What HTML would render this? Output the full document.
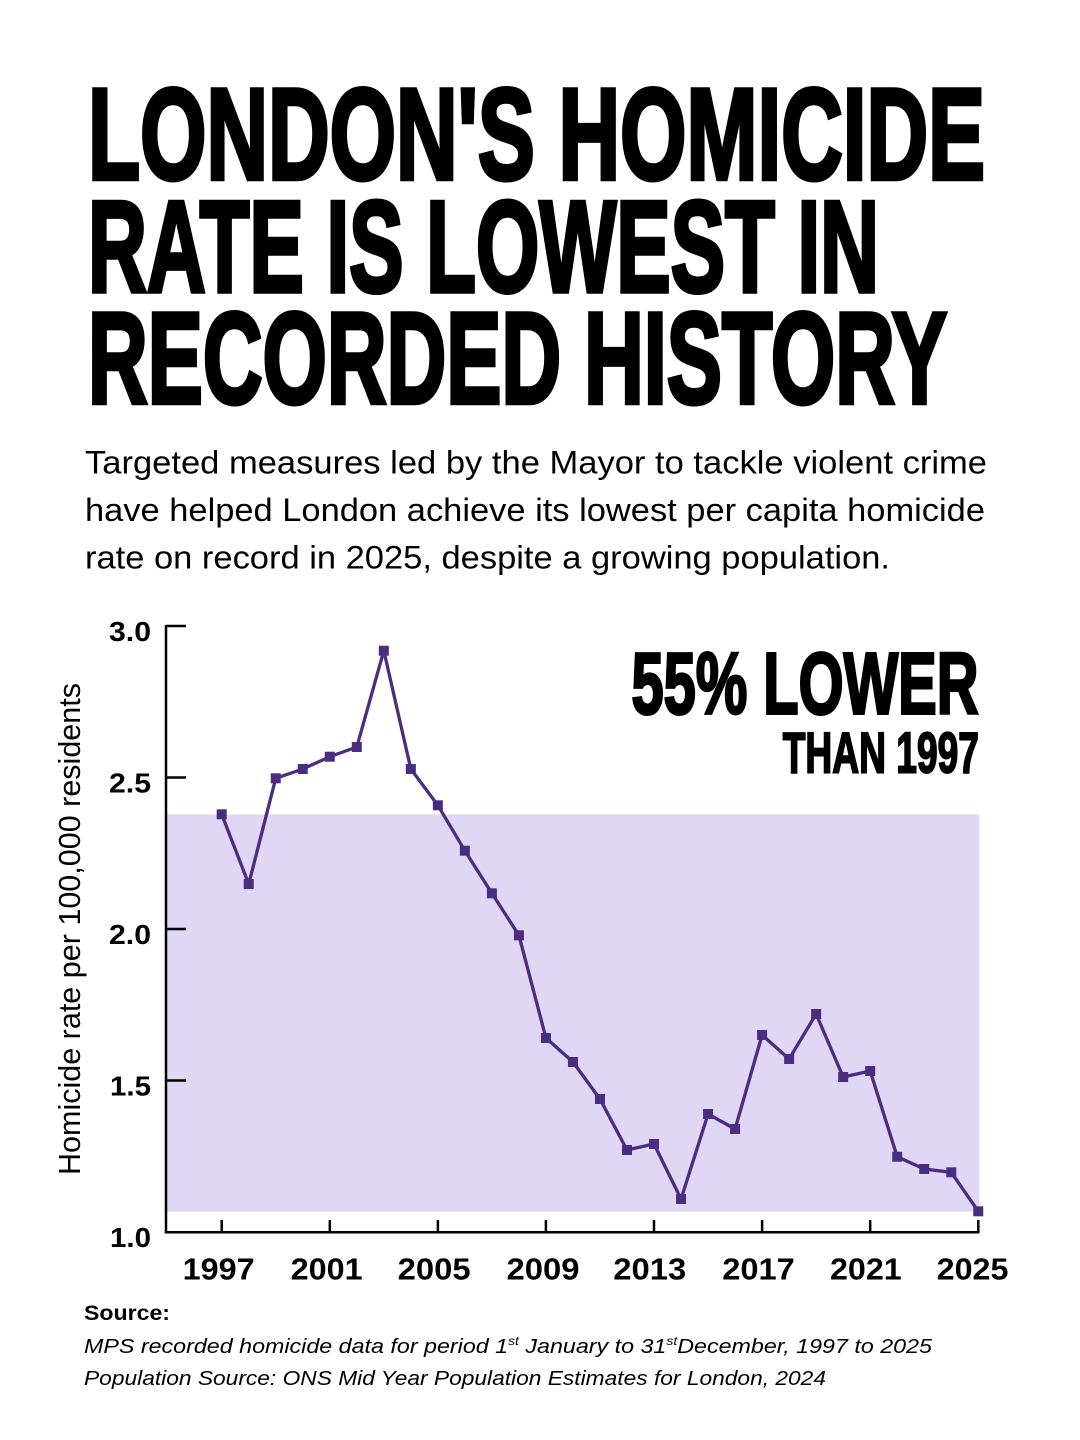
<!DOCTYPE html>
<html>
<head>
<meta charset="utf-8">
<style>
html,body{margin:0;padding:0;background:#fff;}
svg{display:block;}
</style>
</head>
<body>
<svg width="1080" height="1440" viewBox="0 0 1080 1440" xmlns="http://www.w3.org/2000/svg">
<rect x="0" y="0" width="1080" height="1440" fill="#fff"/>

<!-- Title -->
<g font-family="'Liberation Sans Narrow','Liberation Sans',sans-serif" font-weight="bold" fill="#000" stroke="#000" stroke-width="4.5" stroke-linejoin="miter">
<text x="88" y="179" font-size="130" textLength="897" lengthAdjust="spacingAndGlyphs">LONDON'S HOMICIDE</text>
<text x="88" y="291.5" font-size="130" textLength="791" lengthAdjust="spacingAndGlyphs">RATE IS LOWEST IN</text>
<text x="88" y="403" font-size="130" textLength="859" lengthAdjust="spacingAndGlyphs">RECORDED HISTORY</text>
</g>

<!-- Subtitle -->
<g font-family="'Liberation Sans',sans-serif" font-size="32" fill="#000">
<text x="85" y="473.3" textLength="902" lengthAdjust="spacingAndGlyphs">Targeted measures led by the Mayor to tackle violent crime</text>
<text x="85" y="521" textLength="900" lengthAdjust="spacingAndGlyphs">have helped London achieve its lowest per capita homicide</text>
<text x="85" y="568.5" textLength="805" lengthAdjust="spacingAndGlyphs">rate on record in 2025, despite a growing population.</text>
</g>

<!-- Band -->
<rect x="166" y="814.3" width="813.3" height="397.4" fill="#e0d7f5"/>

<!-- Callout -->
<g font-family="'Liberation Sans Narrow','Liberation Sans',sans-serif" font-weight="bold" fill="#000" stroke="#000" stroke-linejoin="miter">
<text x="631.5" y="713.5" font-size="87.4" stroke-width="3" textLength="347" lengthAdjust="spacingAndGlyphs">55% LOWER</text>
<text x="782.7" y="772.3" font-size="57.6" stroke-width="2" textLength="196.3" lengthAdjust="spacingAndGlyphs">THAN 1997</text>
</g>

<!-- Axes -->
<g stroke="#000" stroke-width="2.5" fill="none">
<line x1="166" y1="625" x2="166" y2="1233.5"/>
<line x1="164.8" y1="1232.3" x2="979.5" y2="1232.3"/>
<line x1="166" y1="626" x2="186" y2="626"/>
<line x1="166" y1="777.5" x2="186" y2="777.5"/>
<line x1="166" y1="929" x2="186" y2="929"/>
<line x1="166" y1="1080.5" x2="186" y2="1080.5"/>
<line x1="221.7" y1="1220" x2="221.7" y2="1232"/>
<line x1="329.8" y1="1220" x2="329.8" y2="1232"/>
<line x1="437.9" y1="1220" x2="437.9" y2="1232"/>
<line x1="545.9" y1="1220" x2="545.9" y2="1232"/>
<line x1="654" y1="1220" x2="654" y2="1232"/>
<line x1="762.1" y1="1220" x2="762.1" y2="1232"/>
<line x1="870.2" y1="1220" x2="870.2" y2="1232"/>
<line x1="978.3" y1="1220" x2="978.3" y2="1232"/>
</g>

<!-- Y tick labels -->
<g font-family="'Liberation Sans',sans-serif" font-weight="bold" font-size="28" fill="#000">
<text x="109" y="641" textLength="42" lengthAdjust="spacingAndGlyphs">3.0</text>
<text x="109" y="792.5" textLength="42" lengthAdjust="spacingAndGlyphs">2.5</text>
<text x="109" y="944" textLength="42" lengthAdjust="spacingAndGlyphs">2.0</text>
<text x="110" y="1095.5" textLength="41" lengthAdjust="spacingAndGlyphs">1.5</text>
<text x="110" y="1247" textLength="41" lengthAdjust="spacingAndGlyphs">1.0</text>
</g>

<!-- X tick labels -->
<g font-family="'Liberation Sans',sans-serif" font-weight="bold" font-size="30.5" fill="#000">
<text x="182.7" y="1279.3" textLength="72" lengthAdjust="spacingAndGlyphs">1997</text>
<text x="290.7" y="1279.3" textLength="72" lengthAdjust="spacingAndGlyphs">2001</text>
<text x="397.7" y="1279.3" textLength="73" lengthAdjust="spacingAndGlyphs">2005</text>
<text x="506.5" y="1279.3" textLength="73" lengthAdjust="spacingAndGlyphs">2009</text>
<text x="613.3" y="1279.3" textLength="73" lengthAdjust="spacingAndGlyphs">2013</text>
<text x="722.3" y="1279.3" textLength="72.5" lengthAdjust="spacingAndGlyphs">2017</text>
<text x="830" y="1279.3" textLength="71.7" lengthAdjust="spacingAndGlyphs">2021</text>
<text x="936.7" y="1279.3" textLength="71.7" lengthAdjust="spacingAndGlyphs">2025</text>
</g>

<!-- Y axis title -->
<text transform="translate(80,1175) rotate(-90)" x="0" y="0" font-family="'Liberation Sans',sans-serif" font-size="31" fill="#000" textLength="492" lengthAdjust="spacingAndGlyphs">Homicide rate per 100,000 residents</text>

<!-- Series -->
<polyline fill="none" stroke="#4a2d80" stroke-width="3.3" stroke-linejoin="round"
points="221.7,814.3 248.72,884 275.74,778.3 302.76,769 329.78,756.7 356.8,747 383.82,650.7 410.84,769 437.86,805.3 464.88,850.7 491.9,893.3 518.92,935.3 545.94,1038 572.96,1062 599.98,1099 627,1150 654.02,1144 681.04,1199 708.06,1114 735.08,1129 762.1,1035 789.12,1059 816.14,1014 843.16,1077 870.18,1071 897.2,1156.7 924.22,1169 951.24,1172.3 978.26,1211.3"/>
<g fill="#4a2d80">
<rect x="216.7" y="809.3" width="10" height="10"/>
<rect x="243.72" y="879" width="10" height="10"/>
<rect x="270.74" y="773.3" width="10" height="10"/>
<rect x="297.76" y="764" width="10" height="10"/>
<rect x="324.78" y="751.7" width="10" height="10"/>
<rect x="351.8" y="742" width="10" height="10"/>
<rect x="378.82" y="645.7" width="10" height="10"/>
<rect x="405.84" y="764" width="10" height="10"/>
<rect x="432.86" y="800.3" width="10" height="10"/>
<rect x="459.88" y="845.7" width="10" height="10"/>
<rect x="486.9" y="888.3" width="10" height="10"/>
<rect x="513.92" y="930.3" width="10" height="10"/>
<rect x="540.94" y="1033" width="10" height="10"/>
<rect x="567.96" y="1057" width="10" height="10"/>
<rect x="594.98" y="1094" width="10" height="10"/>
<rect x="622" y="1145" width="10" height="10"/>
<rect x="649.02" y="1139" width="10" height="10"/>
<rect x="676.04" y="1194" width="10" height="10"/>
<rect x="703.06" y="1109" width="10" height="10"/>
<rect x="730.08" y="1124" width="10" height="10"/>
<rect x="757.1" y="1030" width="10" height="10"/>
<rect x="784.12" y="1054" width="10" height="10"/>
<rect x="811.14" y="1009" width="10" height="10"/>
<rect x="838.16" y="1072" width="10" height="10"/>
<rect x="865.18" y="1066" width="10" height="10"/>
<rect x="892.2" y="1151.7" width="10" height="10"/>
<rect x="919.22" y="1164" width="10" height="10"/>
<rect x="946.24" y="1167.3" width="10" height="10"/>
<rect x="973.26" y="1206.3" width="10" height="10"/>
</g>

<!-- Source -->
<text x="84" y="1320" font-family="'Liberation Sans',sans-serif" font-weight="bold" font-size="21" fill="#000" textLength="86" lengthAdjust="spacingAndGlyphs">Source:</text>
<g font-family="'Liberation Sans',sans-serif" font-style="italic" font-size="20" fill="#000">
<text x="84" y="1353" textLength="848" lengthAdjust="spacingAndGlyphs">MPS recorded homicide data for period 1<tspan font-size="12" dy="-8">st</tspan><tspan dy="8"> January to 31</tspan><tspan font-size="12" dy="-8">st</tspan><tspan dy="8">December, 1997 to 2025</tspan></text>
<text x="84" y="1385" textLength="742" lengthAdjust="spacingAndGlyphs">Population Source: ONS Mid Year Population Estimates for London, 2024</text>
</g>
</svg>
</body>
</html>
